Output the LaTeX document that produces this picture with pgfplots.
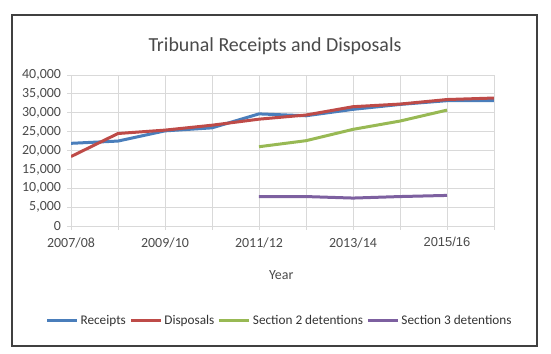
\documentclass[border=0pt]{standalone}
\usepackage{pgfplots}
\pgfplotsset{compat=1.18}
\usepackage{fontspec}
\setmainfont{Carlito}
\newfontfamily\arialf{Liberation Sans}
\definecolor{cBlue}{HTML}{4A7EBB}
\definecolor{cRed}{HTML}{BE4B48}
\definecolor{cGreen}{HTML}{98B954}
\definecolor{cPurple}{HTML}{7D60A0}
\definecolor{gridgray}{HTML}{D9D9D9}
\definecolor{textgray}{HTML}{4A4A4A}
\definecolor{framegray}{HTML}{404040}
\begin{document}
\begin{tikzpicture}
\useasboundingbox (0bp,0bp) rectangle (551bp,354bp);
\draw[line width=1.4bp, color=framegray] (12bp,8bp) rectangle (537bp,339bp);
\node[font=\fontsize{20}{24}\selectfont, text=textgray] at (275bp,308bp) {Tribunal Receipts and Disposals};
\begin{axis}[at={(71bp,128bp)}, anchor=south west, scale only axis,
  width=423bp, height=151bp,
  xmin=0, xmax=9, ymin=0, ymax=40000,
  ytick={0,5000,...,40000},
  xtick={0,...,9},
  xticklabels={2007/08,,2009/10,,2011/12,,2013/14,,{\arialf\fontsize{13}{15}\selectfont\raisebox{-1.5bp}{2015/16}},},
  scaled y ticks=false,
  yticklabel style={xshift=-2.5bp, /pgf/number format/.cd, 1000 sep={,}, assume math mode=true},
  xticklabel style={yshift=-4bp},
  grid=major, major grid style={color=gridgray, line width=0.8bp},
  axis line style={gridgray, line width=0.8bp},
  tick style={gridgray, line width=0.8bp},
  tick align=outside, major tick length=4bp,
  xtick pos=bottom, ytick pos=left,
  ticklabel style={font=\fontsize{14}{16}\selectfont, text=textgray},
  xlabel={Year},
  xlabel style={at={(axis description cs:0.497,-0.322)}, anchor=center, font=\fontsize{14}{16}\selectfont, text=textgray},
  legend columns=4,
  legend style={draw=none, fill=none, at={(0.493,-0.629)}, anchor=center,
    font=\fontsize{13.3}{15}\selectfont, text=black!80, inner xsep=0pt,
    /tikz/every even column/.append style={column sep=1.5bp},
    nodes={inner xsep=2bp}},
  legend image code/.code={\draw[#1, line width=3bp] (0bp,0bp) -- (30bp,0bp);},
  every axis plot/.append style={line width=3bp, line join=round, no markers},
]
\addplot[cBlue] coordinates {(0,21900) (1,22500) (2,25200) (3,26000) (4,29700) (5,29200) (6,30900) (7,32200) (8,33200) (9,33200)};
\addlegendentry{Receipts}
\addplot[cRed] coordinates {(0,18400) (1,24500) (2,25400) (3,26700) (4,28300) (5,29400) (6,31600) (7,32300) (8,33500) (9,33900)};
\addlegendentry{Disposals}
\addplot[cGreen] coordinates {(4,21000) (5,22600) (6,25600) (7,27800) (8,30700)};
\addlegendentry{Section 2 detentions}
\addplot[cPurple] coordinates {(4,7800) (5,7800) (6,7400) (7,7800) (8,8100)};
\addlegendentry{Section 3 detentions}
\end{axis}
\end{tikzpicture}
\end{document}
